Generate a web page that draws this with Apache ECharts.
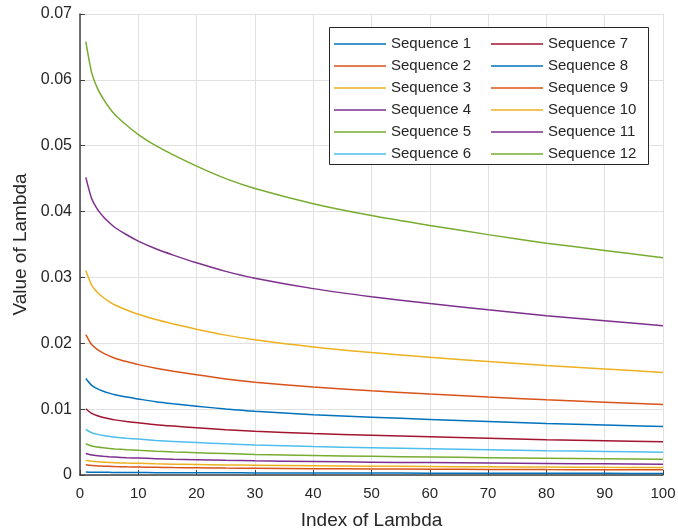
<!DOCTYPE html>
<html>
<head>
<meta charset="utf-8">
<script src="https://cdn.jsdelivr.net/npm/echarts@6/dist/echarts.min.js"></script>
<style>html,body{margin:0;padding:0;background:#fff}#c{width:678px;height:529px}</style>
</head>
<body>
<div id="c"></div>
<script>
// Sampled x positions (Index of Lambda)
var xs = [1, 2, 3, 4, 5, 6, 8, 10, 13, 16, 20, 25, 30, 40, 50, 60, 70, 80, 90, 100];
var seq1  = [0.00045,0.00042,0.00041,0.00040,0.00040,0.00039,0.00038,0.00037,0.00036,0.00035,0.00034,0.00033,0.00032,0.00030,0.00029,0.00028,0.00027,0.00026,0.00025,0.00024];
var seq2  = [0.00154,0.00143,0.00138,0.00134,0.00131,0.00128,0.00124,0.00122,0.00117,0.00113,0.00110,0.00105,0.00102,0.00096,0.00092,0.00089,0.00085,0.00082,0.00080,0.00078];
var seq3  = [0.00224,0.00209,0.00200,0.00195,0.00190,0.00187,0.00181,0.00177,0.00170,0.00165,0.00160,0.00153,0.00148,0.00140,0.00134,0.00129,0.00124,0.00120,0.00116,0.00113];
var seq4  = [0.00326,0.00303,0.00291,0.00283,0.00277,0.00272,0.00263,0.00257,0.00248,0.00240,0.00233,0.00223,0.00215,0.00204,0.00195,0.00188,0.00181,0.00174,0.00169,0.00164];
var seq5  = [0.00475,0.00441,0.00424,0.00412,0.00403,0.00395,0.00384,0.00374,0.00361,0.00350,0.00339,0.00325,0.00313,0.00297,0.00284,0.00273,0.00263,0.00254,0.00246,0.00238];
var seq6  = [0.00691,0.00642,0.00617,0.00600,0.00587,0.00575,0.00558,0.00545,0.00525,0.00510,0.00493,0.00473,0.00456,0.00432,0.00414,0.00398,0.00383,0.00369,0.00358,0.00347];
var seq7  = [0.01006,0.00935,0.00899,0.00874,0.00854,0.00837,0.00813,0.00793,0.00764,0.00743,0.00718,0.00688,0.00664,0.00629,0.00603,0.00580,0.00557,0.00537,0.00521,0.00505];
var seq8  = [0.01465,0.01361,0.01308,0.01272,0.01243,0.01219,0.01183,0.01154,0.01112,0.01081,0.01045,0.01002,0.00967,0.00916,0.00878,0.00844,0.00811,0.00782,0.00758,0.00735];
var seq9  = [0.02133,0.01981,0.01904,0.01851,0.01809,0.01774,0.01722,0.01676,0.01621,0.01576,0.01521,0.01459,0.01410,0.01336,0.01278,0.01229,0.01183,0.01141,0.01106,0.01070];
var seq10 = [0.03105,0.02884,0.02771,0.02695,0.02633,0.02582,0.02506,0.02440,0.02360,0.02294,0.02214,0.02124,0.02053,0.01944,0.01860,0.01789,0.01723,0.01661,0.01610,0.01557];
var seq11 = [0.04520,0.04198,0.04033,0.03923,0.03833,0.03758,0.03648,0.03552,0.03435,0.03339,0.03222,0.03092,0.02988,0.02830,0.02707,0.02604,0.02508,0.02418,0.02343,0.02267];
var seq12 = [0.0658,0.0611,0.0587,0.0571,0.0558,0.0547,0.0531,0.0517,0.0500,0.0486,0.0469,0.0450,0.0435,0.0412,0.0394,0.0379,0.0365,0.0352,0.0341,0.0330];

var seriesNames = ['Sequence 1','Sequence 2','Sequence 3','Sequence 4','Sequence 5','Sequence 6','Sequence 7','Sequence 8','Sequence 9','Sequence 10','Sequence 11','Sequence 12'];
var seriesValues = [seq1,seq2,seq3,seq4,seq5,seq6,seq7,seq8,seq9,seq10,seq11,seq12];
var colors = ['#0072BD','#D95319','#EDB120','#7E2F8E','#77AC30','#4DBEEE','#A2142F','#0072BD','#D95319','#EDB120','#7E2F8E','#77AC30'];
var yTicks = ['0','0.01','0.02','0.03','0.04','0.05','0.06','0.07'];

var FONT = '"Liberation Sans", Arial, Helvetica, sans-serif';
var TXT = '#262626';

var series = seriesValues.map(function (vals, i) {
  return {
    name: seriesNames[i],
    type: 'line',
    data: xs.map(function (x, j) { return [x, vals[j]]; }),
    symbol: 'none',
    smooth: 0.25,
    lineStyle: { width: 1.5, color: colors[i] },
    itemStyle: { color: colors[i] },
    z: 5 + i,
    animation: false
  };
});

var legendCommon = {
  orient: 'vertical',
  itemWidth: 52,
  itemHeight: 14,
  itemGap: 6,
  padding: 0,
  icon: 'path://M0,6.25L52,6.25L52,7.75L0,7.75Z',
  textStyle: { fontFamily: FONT, fontSize: 15, color: TXT, lineHeight: 16 },
  z: 10
};

var chart = echarts.init(document.getElementById('c'), null, { renderer: 'canvas' });
chart.setOption({
  backgroundColor: '#fff',
  animation: false,
  color: colors,
  grid: { left: 80, right: 15, top: 14, bottom: 54, containLabel: false, outerBoundsMode: 'none' },
  xAxis: {
    type: 'value', min: 0, max: 100, interval: 10,
    name: 'Index of Lambda', nameLocation: 'middle', nameGap: 36,
    nameTextStyle: { fontFamily: FONT, fontSize: 19, color: TXT },
    axisLine: { show: true, onZero: false, lineStyle: { color: '#404040', width: 1.5 } },
    axisTick: { show: true, inside: true, length: 5, lineStyle: { color: '#404040', width: 1 } },
    axisLabel: { fontFamily: FONT, fontSize: 15, color: TXT, margin: 11 },
    splitLine: { show: true, lineStyle: { color: '#e1e1e1', width: 1 } }
  },
  yAxis: {
    type: 'value', min: 0, max: 0.07, interval: 0.01,
    name: 'Value of Lambda', nameLocation: 'middle', nameGap: 50,
    nameTextStyle: { fontFamily: FONT, fontSize: 19, color: TXT },
    axisLine: { show: true, lineStyle: { color: '#404040', width: 1.5 } },
    axisTick: { show: true, inside: true, length: 5, lineStyle: { color: '#404040', width: 1 } },
    axisLabel: { fontFamily: FONT, fontSize: 16, color: TXT, margin: 8,
      formatter: function (v) { return yTicks[Math.round(v / 0.01)]; } },
    splitLine: { show: true, lineStyle: { color: '#e1e1e1', width: 1 } }
  },
  graphic: [{
    type: 'rect', z: 8,
    shape: { x: 329.5, y: 27.5, width: 319, height: 137 },
    style: { fill: '#fff', stroke: '#262626', lineWidth: 1 }
  }],
  legend: [
    Object.assign({}, legendCommon, { left: 334, top: 36, data: seriesNames.slice(0, 6) }),
    Object.assign({}, legendCommon, { left: 491, top: 36, data: seriesNames.slice(6, 12) })
  ],
  series: series
});
</script>
</body>
</html>
